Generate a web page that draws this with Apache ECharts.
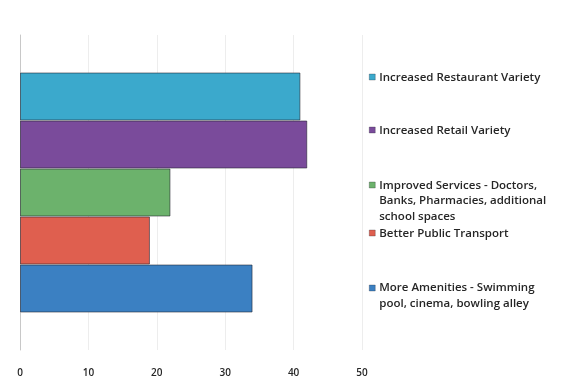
<!DOCTYPE html>
<html>
<head>
<meta charset="utf-8">
<style>
  html, body { margin: 0; padding: 0; background: #ffffff; }
  #chart { width: 565px; height: 383px; }
</style>
<script src="https://cdn.jsdelivr.net/npm/echarts@6/dist/echarts.min.js"></script>
</head>
<body>
<div id="chart"></div>
<script>
// Responses per improvement, listed top to bottom
const seriesNames = [
  'Increased Restaurant Variety',
  'Increased Retail Variety',
  'Improved Services - Doctors,\nBanks, Pharmacies, additional\nschool spaces',
  'Better Public Transport',
  'More Amenities - Swimming\npool, cinema, bowling alley'
];
const seriesValues = [41, 42, 22, 19, 34];
const seriesColors = ['#3ba9cc', '#7a4b9b', '#6cb26c', '#df5f4f', '#3b80c2'];
const xTicks = [0, 10, 20, 30, 40, 50];

// Top edge of each legend entry
const legendTops = [69, 122, 177, 225, 280];

const LINE_H = 15.5;

const chart = echarts.init(document.getElementById('chart'), null, { renderer: 'canvas' });

// Square marker pinned to the first text line of a (possibly multi-line) entry
function markerFor(name) {
  const lines = name.split('\n').length;
  const h = Math.round(lines * LINE_H);
  const top = LINE_H / 2 - 3;
  return {
    icon: 'path://M0,0 L0.01,0 M0,' + top + ' L6,' + top + ' L6,' + (top + 6) + ' L0,' + (top + 6) + ' Z M0,' + h + ' L0.01,' + h,
    height: h
  };
}

// Within one category the first bar series is drawn at the top
const series = seriesNames.map((name, i) => ({
  name: name,
  type: 'bar',
  data: [seriesValues[i]],
  barWidth: 48,
  barGap: '0%',
  itemStyle: {
    color: seriesColors[i],
    borderColor: 'rgba(30,30,40,0.55)',
    borderWidth: 1
  },
  emphasis: { disabled: true }
}));

const legends = seriesNames.map((name, k) => {
  const m = markerFor(name);
  return {
    data: [{ name: name, icon: m.icon, itemStyle: { borderColor: 'rgba(30,30,40,0.55)', borderWidth: 0.5 } }],
    left: 369,
    top: legendTops[k],
    padding: 0,
    orient: 'vertical',
    itemWidth: 6,
    itemHeight: m.height,
    itemGap: 0,
    selectedMode: false,
    textStyle: {
      fontFamily: 'Open Sans',
      fontSize: 11.5,
      fontWeight: 600,
      color: '#262626',
      lineHeight: LINE_H,
      padding: [0, 0, 0, -1]
    }
  };
});

chart.setOption({
  animation: false,
  backgroundColor: '#ffffff',
  legend: legends,
  grid: {
    left: 20,
    right: 203,
    top: 35,
    bottom: 33,
    containLabel: false
  },
  xAxis: {
    type: 'value',
    min: xTicks[0],
    max: xTicks[xTicks.length - 1],
    interval: 10,
    axisLine: { show: false },
    axisTick: { show: false },
    axisLabel: {
      margin: 18,
      fontFamily: 'Open Sans',
      fontSize: 10,
      fontWeight: 600,
      color: '#262626'
    },
    splitLine: { show: true, lineStyle: { color: '#ededed', width: 1 } }
  },
  yAxis: {
    type: 'category',
    data: [''],
    axisLine: { show: true, lineStyle: { color: '#c8c8c8' } },
    axisTick: { show: false },
    axisLabel: { show: false }
  },
  series: series
});
</script>
</body>
</html>
